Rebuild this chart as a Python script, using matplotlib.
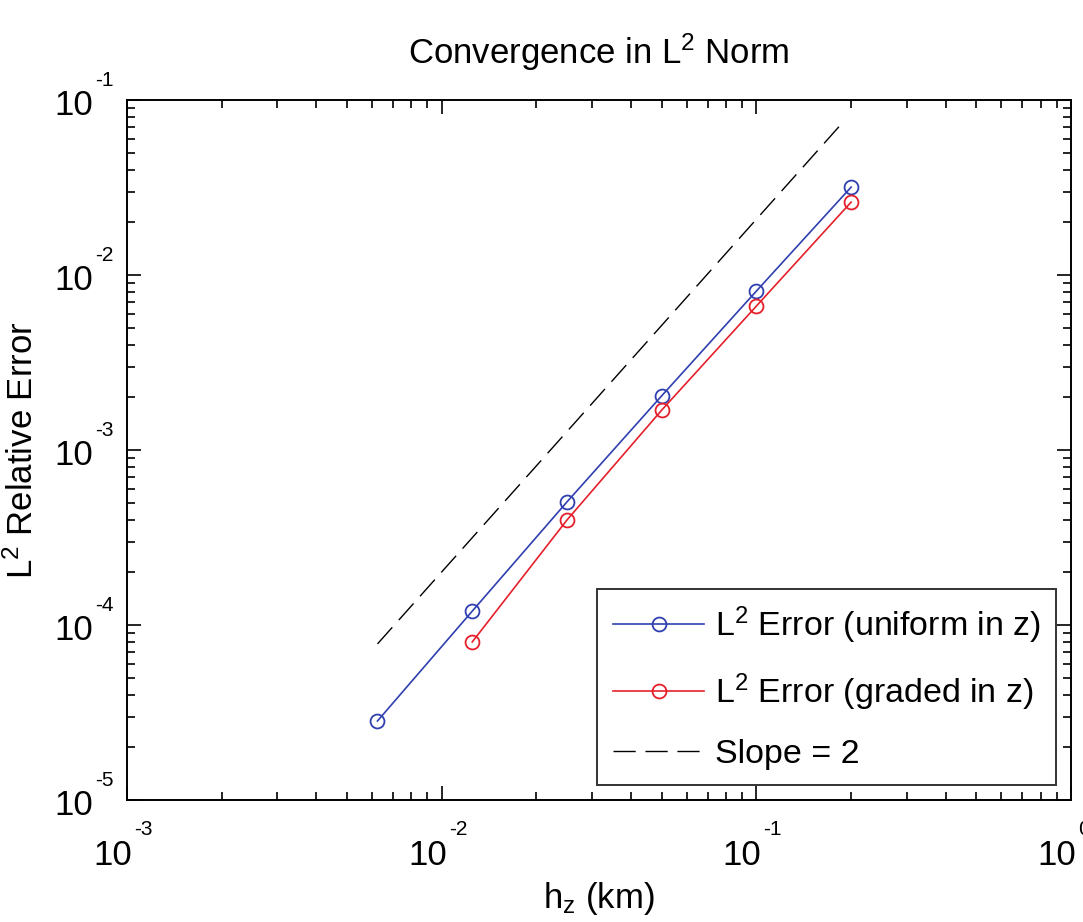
import matplotlib
matplotlib.use('Agg')
from matplotlib import pyplot as plt
from matplotlib.ticker import LogLocator, NullFormatter, FixedLocator
from matplotlib.transforms import blended_transform_factory, offset_copy

plt.rcParams['font.family'] = ['Liberation Sans', 'DejaVu Sans']
plt.rcParams['mathtext.fontset'] = 'custom'
plt.rcParams['mathtext.rm'] = 'Liberation Sans'
plt.rcParams['mathtext.it'] = 'Liberation Sans'
plt.rcParams['mathtext.default'] = 'regular'

# mesh size h_z (km)
h_uniform = [0.00625, 0.0125, 0.025, 0.05, 0.1, 0.2]
err_uniform = [2.83e-5, 1.2e-4, 5.05e-4, 2.04e-3, 8.1e-3, 3.18e-2]

h_graded = [0.0125, 0.025, 0.05, 0.1, 0.2]
err_graded = [8.0e-5, 3.98e-4, 1.69e-3, 6.65e-3, 2.61e-2]

# reference slope line end points
h_slope = [0.00625, 0.185]
err_slope = [7.8e-5, 0.072]

# decade exponents for tick labels
x_exps = [-3, -2, -1, 0]
y_exps = [-5, -4, -3, -2, -1]

fig = plt.figure(figsize=(10.83, 9.22), dpi=100)
ax = fig.add_axes([0.1173, 0.1323, 0.8717, 0.7592])

ax.loglog(h_uniform, err_uniform, '-o', color='#2f3fb0', lw=1.2,
          markersize=10, markerfacecolor='none', markeredgewidth=1.3,
          label=r'$L^2$ Error (uniform in z)')
ax.loglog(h_graded, err_graded, '-o', color='#e5202a', lw=1.2,
          markersize=10, markerfacecolor='none', markeredgewidth=1.3,
          label=r'$L^2$ Error (graded in z)')
ax.loglog(h_slope, err_slope, color='black', lw=1.0, dashes=(16, 7),
          label='Slope = 2')

ax.set_xlim(1e-3, 1)
ax.set_ylim(1e-5, 1e-1)

ax.xaxis.set_major_locator(FixedLocator([10.0 ** e for e in x_exps]))
ax.yaxis.set_major_locator(FixedLocator([10.0 ** e for e in y_exps]))
ax.xaxis.set_minor_locator(LogLocator(base=10, subs=range(2, 10), numticks=20))
ax.yaxis.set_minor_locator(LogLocator(base=10, subs=range(2, 10), numticks=20))
for axis in (ax.xaxis, ax.yaxis):
    axis.set_major_formatter(NullFormatter())
    axis.set_minor_formatter(NullFormatter())

ax.tick_params(which='both', direction='in', top=True, right=True,
               width=1.2, colors='black')
ax.tick_params(which='major', length=10)
ax.tick_params(which='minor', length=6)
for sp in ax.spines.values():
    sp.set_linewidth(1.4)

# MATLAB-style tick labels: "10" with a small raised exponent
xtr = blended_transform_factory(ax.transData, ax.transAxes)
for e in x_exps:
    ax.text(10.0 ** e, 0, '10', fontsize=25, ha='right', va='baseline',
            transform=offset_copy(xtr, fig, x=5, y=-65, units='dots'),
            clip_on=False)
    ax.text(10.0 ** e, 0, str(e), fontsize=15, ha='left', va='baseline',
            transform=offset_copy(xtr, fig, x=7, y=-35, units='dots'),
            clip_on=False)

ytr = blended_transform_factory(ax.transAxes, ax.transData)
for e in y_exps:
    ax.text(0, 10.0 ** e, '10', fontsize=25, ha='right', va='baseline',
            transform=offset_copy(ytr, fig, x=-34, y=-15, units='dots'),
            clip_on=False)
    ax.text(0, 10.0 ** e, str(e), fontsize=15, ha='left', va='baseline',
            transform=offset_copy(ytr, fig, x=-32, y=14, units='dots'),
            clip_on=False)

ax.set_title(r'Convergence in $L^2$ Norm', fontsize=25, pad=26)
ax.set_xlabel(r'$h_z$ (km)', fontsize=25)
ax.xaxis.set_label_coords(0.5, -80 / 700)
ax.set_ylabel(r'$L^2$ Relative Error', fontsize=25)
ax.yaxis.set_label_coords(-87 / 944, 0.5)

leg = ax.legend(loc='lower right', fontsize=24.5, frameon=True, fancybox=False,
                edgecolor='black', handlelength=2.7, borderpad=0.45,
                labelspacing=0.75, handletextpad=0.3, borderaxespad=0.44)
leg.get_frame().set_linewidth(1.4)

fig.savefig('out.png', dpi=100)
